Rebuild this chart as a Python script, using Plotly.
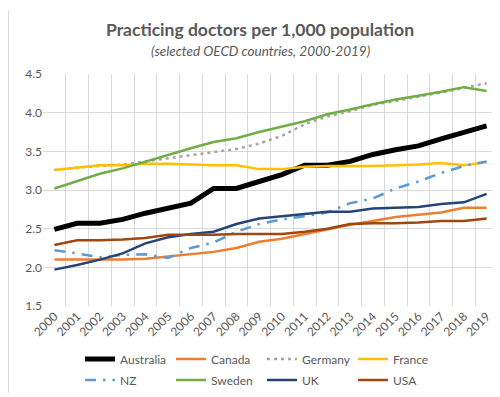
import plotly.graph_objects as go

years = [str(y) for y in range(2000, 2020)]

australia = [2.49, 2.57, 2.57, 2.62, 2.70, 2.77, 2.83, 3.02, 3.02, 3.11, 3.20, 3.32, 3.32, 3.37, 3.46, 3.52, 3.57, 3.66, 3.75, 3.83]
canada    = [2.10, 2.10, 2.10, 2.10, 2.11, 2.14, 2.17, 2.20, 2.25, 2.33, 2.37, 2.43, 2.49, 2.55, 2.60, 2.65, 2.68, 2.71, 2.77, 2.77]
germany   = [3.26, 3.29, 3.31, 3.33, 3.37, 3.41, 3.45, 3.49, 3.53, 3.60, 3.70, 3.85, 3.95, 4.02, 4.10, 4.15, 4.21, 4.26, 4.32, 4.38]
france    = [3.26, 3.29, 3.32, 3.32, 3.34, 3.34, 3.33, 3.32, 3.32, 3.27, 3.27, 3.30, 3.31, 3.31, 3.31, 3.32, 3.33, 3.35, 3.32, 3.36]
nz        = [2.22, 2.18, 2.13, 2.16, 2.17, 2.12, 2.25, 2.32, 2.46, 2.56, 2.62, 2.66, 2.71, 2.83, 2.89, 3.02, 3.11, 3.22, 3.31, 3.37]
sweden    = [3.02, 3.12, 3.21, 3.28, 3.37, 3.46, 3.54, 3.62, 3.67, 3.75, 3.82, 3.89, 3.98, 4.04, 4.11, 4.17, 4.22, 4.27, 4.33, 4.28]
uk        = [1.97, 2.03, 2.10, 2.18, 2.31, 2.39, 2.43, 2.46, 2.56, 2.63, 2.66, 2.69, 2.72, 2.72, 2.76, 2.77, 2.78, 2.82, 2.84, 2.95]
usa       = [2.29, 2.35, 2.35, 2.36, 2.38, 2.42, 2.42, 2.42, 2.43, 2.43, 2.43, 2.46, 2.50, 2.56, 2.57, 2.57, 2.58, 2.60, 2.60, 2.63]

series = [
    ("Australia", australia, "#000000", 5, "solid", "legend"),
    ("Canada", canada, "#ED7D31", 2.5, "solid", "legend"),
    ("Germany", germany, "#A5A5A5", 2.5, "3px,4px", "legend"),
    ("France", france, "#FFC000", 2.5, "solid", "legend"),
    ("NZ", nz, "#5B9BD5", 2.5, "11px,7px,2.5px,7px", "legend2"),
    ("Sweden", sweden, "#70AD47", 2.5, "solid", "legend2"),
    ("UK", uk, "#264478", 2.5, "solid", "legend2"),
    ("USA", usa, "#9E480E", 2.5, "solid", "legend2"),
]

fig = go.Figure()
for name, vals, color, w, dash, leg in series:
    fig.add_trace(go.Scatter(x=years, y=vals, mode="lines", name=name,
                             line=dict(color=color, width=w, dash=dash),
                             legend=leg))

font_family = "Lato, 'Open Sans', Arial, sans-serif"
grey = "#595959"

legend_common = dict(orientation="h", xanchor="left", yanchor="middle",
                     font=dict(family=font_family, size=12, color=grey),
                     entrywidth=46, entrywidthmode="pixels",
                     itemwidth=30, bgcolor="rgba(0,0,0,0)", tracegroupgap=0)

fig.update_layout(
    width=500, height=397,
    margin=dict(l=35, r=10, t=66, b=90),
    paper_bgcolor="white", plot_bgcolor="white",
    font=dict(family=font_family, color=grey),
    showlegend=True,
    legend=dict(x=(72 - 35) / 455, y=-(362 - 307) / 241, **legend_common),
    legend2=dict(x=(72 - 35) / 455, y=-(384 - 307) / 241, **legend_common),
    xaxis=dict(type="category", tickson="boundaries", showgrid=True,
               range=[-0.5, 19.5],
               gridcolor="#D9D9D9", gridwidth=1, showline=False,
               ticks="", tickangle=-45,
               tickfont=dict(family=font_family, size=12, color=grey),
               zeroline=False),
    yaxis=dict(range=[1.5, 4.5], dtick=0.5, tickformat=".1f",
               showgrid=True, gridcolor="#D9D9D9", gridwidth=1,
               zeroline=False, showline=False, ticks="",
               tickfont=dict(family=font_family, size=12, color=grey)),
    annotations=[
        dict(text="<b>Practicing doctors per 1,000 population</b>",
             xref="paper", yref="paper", x=(252 - 35) / 455, y=1 + (66 - 20) / 241,
             xanchor="center", yanchor="middle", showarrow=False,
             font=dict(family=font_family, size=17.5, color=grey)),
        dict(text="<i>(selected OECD countries, 2000-2019)</i>",
             xref="paper", yref="paper", x=(252 - 35) / 455, y=1 + (66 - 42) / 241,
             xanchor="center", yanchor="middle", showarrow=False,
             font=dict(family=font_family, size=13.5, color=grey)),
    ],
    shapes=[
        dict(type="line", xref="paper", yref="paper",
             x0=(0.5 - 35) / 455, x1=(0.5 - 35) / 455,
             y0=-90 / 241, y1=1 + 66 / 241,
             line=dict(color="#D9D9D9", width=1)),
    ],
)

fig.write_html("out.html")
